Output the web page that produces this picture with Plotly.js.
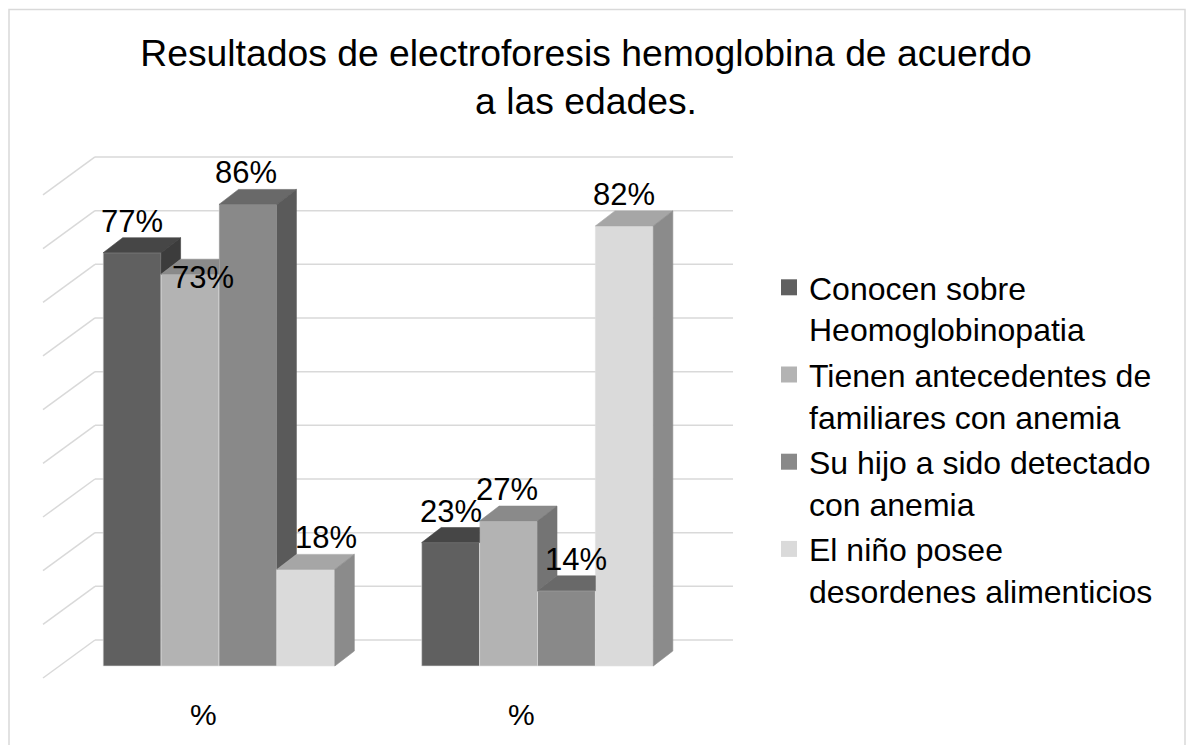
<!DOCTYPE html>
<html>
<head>
<meta charset="utf-8">
<script src="https://cdn.plot.ly/plotly-3.0.1.min.js"></script>
<style>html,body{margin:0;padding:0;background:#fff;}#chart{width:1189px;height:745px;}</style>
</head>
<body>
<div id="chart"></div>
<script>
// ---------------- data ----------------
const categories = ['%', '%'];
const seriesNames = [
  'Conocen sobre<br>Heomoglobinopatia',
  'Tienen antecedentes de<br>familiares con anemia',
  'Su hijo a sido detectado<br>con anemia',
  'El niño posee<br>desordenes alimenticios'
];
const conocen      = [77, 23];
const antecedentes = [73, 27];
const detectado    = [86, 14];
const desordenes   = [18, 82];
const gridValues   = [0, 10, 20, 30, 40, 50, 60, 70, 80, 90];
const titleText = 'Resultados de electroforesis hemoglobina de acuerdo<br>a las edades.';

// ---------------- styles / layout constants ----------------
const series = [conocen, antecedentes, detectado, desordenes];
const frontColors = ['#606060', '#b3b3b3', '#898989', '#dadada'];
const topColors   = ['#464646', '#8a8a8a', '#696969', '#a6a6a6'];
const sideColors  = ['#3c3c3c', '#747474', '#5a5a5a', '#8b8b8b'];
// label nudges in px (x right, y down)
const labelDx = [[0, 0], [13, -2], [-2, 10], [20, 0]];
const labelDy = [[0, 0], [35, 0], [0, 0], [0, 0]];

const W = 1189, H = 745;
const X0 = 219, UX = 318.5;     // px of group 0 centre, px per group unit
const Y0 = 666, UY = 5.367;     // px of baseline of front faces, px per %
const px2x = p => (p - X0) / UX;
const px2y = p => (Y0 - p) / UY;
const dx = 19.5 / UX, dy = 15 / UY;   // bar depth projection
const wallOff = (Y0 - 640) / UY;      // back wall baseline offset
const wallL = px2x(95), wallR = px2x(733);
const sideFrontX = px2x(43), sideFrontOff = px2y(678);
const bargap = 0.2727;
const bw = (1 - bargap) / 4;
const FONT = 'Liberation Sans, Arial, sans-serif';

const traces = [];
// front faces
series.forEach((vals, k) => {
  traces.push({
    type: 'bar', x: categories.map((c, g) => g), y: vals,
    marker: {color: frontColors[k], line: {color: 'rgba(225,225,225,0.6)', width: 1}},
    showlegend: false, hoverinfo: 'skip', name: seriesNames[k]
  });
});
// top and side faces
function poly(xs, ys, color) {
  traces.push({type: 'scatter', mode: 'lines', x: xs.concat([xs[0]]), y: ys.concat([ys[0]]),
    fill: 'toself', fillcolor: color, line: {color: color, width: 0.6},
    showlegend: false, hoverinfo: 'skip'});
}
categories.forEach((c, g) => {
  for (let k = 0; k < 4; k++) {
    const h = series[k][g];
    const n = k < 3 ? series[k + 1][g] : 0;
    const L = g - 2 * bw + k * bw, R = L + bw;
    // top face (clipped by the next, taller front)
    if (n <= h) {
      poly([L, R, R + dx, L + dx], [h, h, h + dy, h + dy], topColors[k]);
    } else if (n >= h + dy) {
      poly([L, R, R, L + dx], [h, h, h + dy, h + dy], topColors[k]);
    } else {
      const xn = R + (n - h) / dy * dx;
      poly([L, R, R, xn, R + dx, L + dx], [h, h, n, n, h + dy, h + dy], topColors[k]);
    }
    // side face visible above the next bar
    if (h > n) {
      poly([R, R + dx, R + dx, R], [n, n + dy, h + dy, h], sideColors[k]);
    }
  }
});
// legend entries
series.forEach((vals, k) => {
  traces.push({type: 'scatter', mode: 'markers', x: [null], y: [null], name: seriesNames[k],
    legendgroup: 'g' + k,
    marker: {symbol: 'square', size: 16, color: frontColors[k]}, hoverinfo: 'skip'});
});

// grid (walls)
const shapes = [];
gridValues.forEach(v => {
  shapes.push({type: 'line', layer: 'below', xref: 'x', yref: 'y',
    x0: wallL, x1: wallR, y0: v + wallOff, y1: v + wallOff,
    line: {color: '#d9d9d9', width: 1.5}});
  shapes.push({type: 'line', layer: 'below', xref: 'x', yref: 'y',
    x0: sideFrontX, x1: wallL, y0: v + sideFrontOff, y1: v + wallOff,
    line: {color: '#d9d9d9', width: 1.5}});
});
// chart frame
shapes.push({type: 'rect', xref: 'paper', yref: 'paper', x0: 9 / W, x1: 1185 / W, y0: -0.02, y1: 1 - 9.5 / H,
  line: {color: '#d9d9d9', width: 1.5}, layer: 'below'});

const annotations = [];
series.forEach((vals, k) => {
  vals.forEach((v, g) => {
    annotations.push({x: g + (k - 1.5) * bw, y: v + dy, xref: 'x', yref: 'y',
      text: v + '%', showarrow: false, xanchor: 'center', yanchor: 'bottom',
      xshift: labelDx[k][g], yshift: -3 - labelDy[k][g],
      font: {family: FONT, size: 31, color: '#000'}});
  });
});
categories.forEach((c, g) => {
  annotations.push({x: g, y: px2y(714), xref: 'x', yref: 'y', text: c, showarrow: false,
    xanchor: 'center', yanchor: 'middle', xshift: -16,
    font: {family: FONT, size: 30, color: '#000'}});
});

const layout = {
  width: W, height: H, autosize: false,
  margin: {l: 0, r: 0, t: 0, b: 0},
  paper_bgcolor: '#fff', plot_bgcolor: 'rgba(0,0,0,0)',
  barmode: 'group', bargap: bargap, bargroupgap: 0,
  title: {text: titleText, x: 586 / W, xanchor: 'center', y: 1 - 66 / H, yanchor: 'top',
    font: {family: FONT, size: 37.3, color: '#000'}},
  xaxis: {range: [px2x(0), px2x(W)], visible: false, fixedrange: true},
  yaxis: {range: [px2y(H), px2y(0)], visible: false, fixedrange: true},
  showlegend: true,
  legend: {x: 769 / W, xanchor: 'left', y: 1 - 260 / H, yanchor: 'top', valign: 'top',
    traceorder: 'grouped', tracegroupgap: 1, itemsizing: 'trace',
    font: {family: FONT, size: 32, color: '#000'}, bgcolor: 'rgba(0,0,0,0)'},
  shapes: shapes, annotations: annotations
};
Plotly.newPlot('chart', traces, layout, {displayModeBar: false, staticPlot: true});
</script>
</body>
</html>
